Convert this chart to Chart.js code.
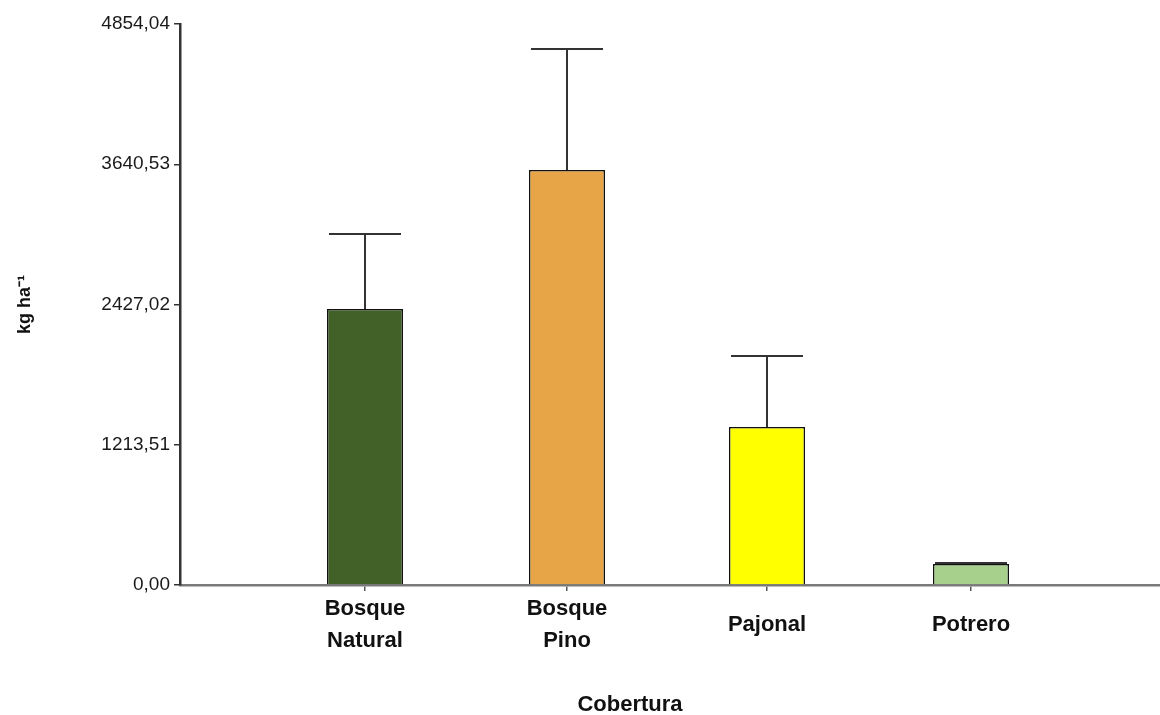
<!DOCTYPE html>
<html>
<head>
<meta charset="utf-8">
<script src="https://cdn.jsdelivr.net/npm/chart.js@4.4.0/dist/chart.umd.min.js"></script>
<style>
  html, body { margin: 0; padding: 0; background: #fff; }
  #wrap { width: 1160px; height: 715px; position: relative; }
</style>
</head>
<body>
<div id="wrap"><canvas id="myChart"></canvas></div>
<script>
// data
const coberturas = [['Bosque', 'Natural'], ['Bosque', 'Pino'], 'Pajonal', 'Potrero'];
const posiciones = [1, 2.01, 3.01, 4.03];
const biomasa = [2388, 3591, 1367, 182];
const errorSup = [3037, 4638, 1981, 190];
const yTicks = [0, 1213.51, 2427.02, 3640.53, 4854.04];
const colores = ['#416128', '#E8A548', '#FFFF00', '#A8D08D'];

const fuente = 'Liberation Sans, Arial, sans-serif';

// upper error bars, placed with the chart's own scales
const errorBars = {
  id: 'errorBars',
  afterDatasetsDraw(chart) {
    const ctx = chart.ctx;
    const yScale = chart.scales.y;
    const meta = chart.getDatasetMeta(0);
    ctx.save();
    ctx.strokeStyle = '#333';
    ctx.lineWidth = 2;
    meta.data.forEach((bar, i) => {
      const top = yScale.getPixelForValue(errorSup[i]);
      const half = bar.width / 2 - 2;
      ctx.beginPath();
      ctx.moveTo(bar.x, bar.y);
      ctx.lineTo(bar.x, top);
      ctx.moveTo(bar.x - half, top);
      ctx.lineTo(bar.x + half, top);
      ctx.stroke();
    });
    ctx.restore();
  }
};

// x axis title, sits a bit left of the plot centre like the original
const xTitle = {
  id: 'xTitle',
  afterDraw(chart) {
    const ctx = chart.ctx;
    ctx.save();
    ctx.font = 'bold 22px ' + fuente;
    ctx.fillStyle = '#111';
    ctx.textAlign = 'center';
    ctx.textBaseline = 'middle';
    ctx.fillText('Cobertura', 630, 705);
    ctx.restore();
  }
};

const data = {
  datasets: [{
    label: 'kg ha-1',
    data: posiciones.map((p, i) => ({ x: p, y: biomasa[i] })),
    backgroundColor: colores,
    borderColor: '#111',
    borderWidth: 1.5,
    barPercentage: 0.38,
    categoryPercentage: 1
  }]
};

const config = {
  type: 'bar',
  data: data,
  options: {
    responsive: false,
    animation: false,
    layout: { padding: { top: 24, left: 0, right: 0, bottom: 0 } },
    plugins: {
      legend: { display: false },
      tooltip: { enabled: false }
    },
    scales: {
      x: {
        type: 'linear',
        min: 0.075,
        max: 4.975,
        offset: false,
        afterBuildTicks: (scale) => { scale.ticks = posiciones.map(v => ({ value: v })); },
        afterFit: (scale) => { scale.height = 130; },
        ticks: {
          callback: (v) => coberturas[posiciones.indexOf(v)],
          font: { family: fuente, size: 22, weight: 'bold', lineHeight: 1.45 },
          color: '#111',
          crossAlign: 'center',
          maxRotation: 0,
          autoSkip: false,
          padding: 18
        },
        grid: { display: true, offset: false, drawOnChartArea: false, tickLength: 6, color: '#555', lineWidth: 1.5 },
        border: { display: true, color: '#7a7a7a', width: 2.5 }
      },
      y: {
        min: 0,
        max: 4854.04,
        afterBuildTicks: (scale) => { scale.ticks = yTicks.map(v => ({ value: v })); },
        afterFit: (scale) => { scale.width = 180; },
        ticks: {
          callback: (v) => v.toFixed(2).replace('.', ','),
          font: { family: fuente, size: 19 },
          color: '#1a1a1a',
          padding: 4
        },
        grid: { display: true, drawOnChartArea: false, tickLength: 6, color: '#333', lineWidth: 1.5 },
        border: { display: true, color: '#333', width: 2.5 },
        title: {
          display: true,
          text: 'kg ha\u207B\u00B9',
          font: { family: fuente, size: 18, weight: 'bold' },
          color: '#111',
          padding: { top: 14, bottom: 0 }
        }
      }
    }
  },
  plugins: [errorBars, xTitle]
};

const canvas = document.getElementById('myChart');
canvas.width = 1160;
canvas.height = 715;
var myChart = new Chart(canvas, config);
</script>
</body>
</html>
